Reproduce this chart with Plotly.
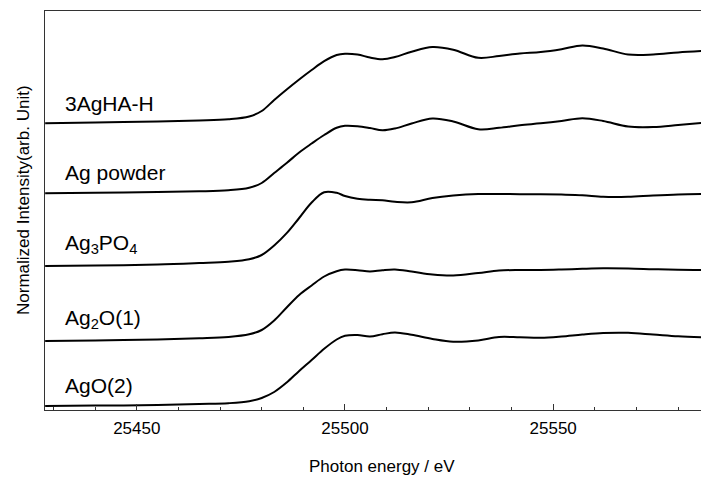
import plotly.graph_objects as go

# Photon energy grid (eV)
energy = [25428, 25440, 25455, 25465, 25472, 25477, 25480, 25483, 25486, 25489,
          25492, 25495, 25498, 25500, 25503, 25506, 25509, 25512, 25516, 25521,
          25526, 25532, 25537, 25542, 25547, 25552, 25557, 25562, 25568, 25574,
          25580, 25586]

# Normalized intensity (arb. unit), vertically offset spectra
ag3_ha_h = [2.867, 2.875, 2.885, 2.895, 2.907, 2.935, 2.990, 3.100, 3.205, 3.305,
            3.400, 3.488, 3.550, 3.563, 3.555, 3.525, 3.508, 3.530, 3.583, 3.630,
            3.603, 3.522, 3.540, 3.565, 3.580, 3.608, 3.645, 3.615, 3.555, 3.555,
            3.575, 3.590]
ag_powder = [2.167, 2.172, 2.180, 2.187, 2.198, 2.223, 2.270, 2.370, 2.470, 2.575,
             2.665, 2.750, 2.822, 2.842, 2.838, 2.820, 2.797, 2.815, 2.865, 2.915,
             2.885, 2.808, 2.822, 2.848, 2.867, 2.890, 2.917, 2.890, 2.835, 2.830,
             2.850, 2.873]
ag3po4 = [1.440, 1.445, 1.455, 1.470, 1.483, 1.507, 1.550, 1.645, 1.768, 1.920,
          2.075, 2.178, 2.172, 2.140, 2.113, 2.102, 2.097, 2.082, 2.077, 2.120,
          2.145, 2.160, 2.160, 2.158, 2.157, 2.154, 2.148, 2.132, 2.132, 2.145,
          2.155, 2.160]
ag2o_1 = [0.690, 0.695, 0.705, 0.717, 0.730, 0.757, 0.800, 0.895, 1.025, 1.150,
          1.245, 1.335, 1.388, 1.404, 1.398, 1.384, 1.398, 1.405, 1.385, 1.355,
          1.345, 1.370, 1.395, 1.400, 1.400, 1.405, 1.412, 1.417, 1.415, 1.408,
          1.402, 1.400]
ago_2 = [0.040, 0.044, 0.050, 0.060, 0.068, 0.087, 0.120, 0.180, 0.275, 0.390,
         0.500, 0.612, 0.705, 0.742, 0.750, 0.735, 0.758, 0.775, 0.752, 0.710,
         0.682, 0.695, 0.730, 0.727, 0.722, 0.735, 0.755, 0.770, 0.772, 0.755,
         0.737, 0.727]

series = [ag3_ha_h, ag_powder, ag3po4, ag2o_1, ago_2]
labels = ["3AgHA-H", "Ag powder", "Ag<sub>3</sub>PO<sub>4</sub>",
          "Ag<sub>2</sub>O(1)", "AgO(2)"]
label_y = [3.067, 2.375, 1.66, 0.91, 0.25]

x_ticks = [25450, 25500, 25550]

FONT = "Liberation Sans, Arial, sans-serif"

fig = go.Figure()
for ys in series:
    fig.add_trace(go.Scatter(x=energy, y=ys, mode="lines",
                             line=dict(color="black", width=2, shape="spline", smoothing=1.0),
                             showlegend=False, hoverinfo="skip"))

for lab, ly in zip(labels, label_y):
    fig.add_annotation(x=0.0274, xref="paper", y=ly, yref="y", text=lab,
                       showarrow=False, xanchor="left", yanchor="middle",
                       font=dict(family=FONT, size=21, color="black"))

fig.add_annotation(x=(382 - 45) / 656, xref="paper", y=-(466 - 410) / 399, yref="paper",
                   text="Photon energy / eV", showarrow=False, xanchor="center", yanchor="middle",
                   font=dict(family=FONT, size=17, color="black"))
fig.add_annotation(x=-(45 - 23) / 656, xref="paper", y=(410 - 200) / 399, yref="paper",
                   text="Normalized Intensity(arb. Unit)", showarrow=False, textangle=-90,
                   xanchor="center", yanchor="middle",
                   font=dict(family=FONT, size=17, color="black"))

fig.update_layout(
    width=701, height=477,
    margin=dict(l=45, r=0, t=11, b=67),
    paper_bgcolor="white", plot_bgcolor="white",
    font=dict(family=FONT, size=17, color="black"),
    xaxis=dict(range=[25427.96, 25585.5], tickvals=x_ticks, tickformat="d",
               ticks="inside", ticklen=6,
               tickwidth=1, tickcolor="#333", showline=True, linecolor="#333", linewidth=1,
               mirror=True, showgrid=False, zeroline=False, ticklabelstandoff=3,
               tickfont=dict(family=FONT, size=17, color="black"),
               minor=dict(dtick=10, tick0=25450, ticks="inside", ticklen=3,
                          tickcolor="#333", showgrid=False)),
    yaxis=dict(range=[0, 3.99], showticklabels=False, ticks="", showline=True,
               linecolor="#333", linewidth=1, showgrid=False, zeroline=False),
)

fig.write_html("out.html")
